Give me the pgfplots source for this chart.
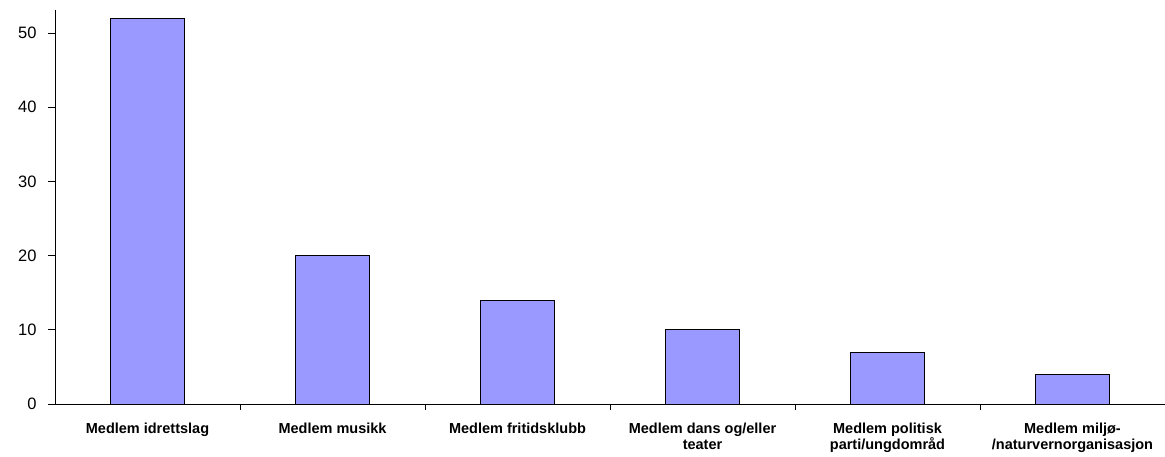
\documentclass[border=0pt]{standalone}
\usepackage{pgfplots}
\pgfplotsset{compat=1.18}
\usepackage{fontspec}
\setmainfont{Liberation Sans}
\definecolor{barblue}{HTML}{9999FF}

\begin{document}
\begin{tikzpicture}
\useasboundingbox (-55pt,-52pt) rectangle (1110pt,404pt);
\begin{axis}[
    at={(0,0)}, anchor=south west,
    scale only axis,
    width=1110pt, height=394pt,
    xmin=-0.5, xmax=5.5,
    ymin=0, ymax=53.1,
    axis x line=bottom, axis y line=left,
    axis line style={-, black, line width=0.8pt},
    ytick={0,10,20,30,40,50},
    tick align=outside,
    major tick length=7pt,
    minor tick length=6pt,
    tick style={black, line width=0.8pt},
    xtick={0,1,2,3,4,5},
    minor xtick={0.5,1.5,2.5,3.5,4.5},
    every major x tick/.append style={draw=none},
    every minor x tick/.append style={draw=black, line width=0.8pt},
    xticklabels={
      {Medlem idrettslag},
      {Medlem musikk},
      {Medlem fritidsklubb},
      {Medlem dans og/eller\\teater},
      {Medlem politisk\\parti/ungdområd},
      {Medlem miljø-\\/naturvernorganisasjon}},
    xticklabel style={font=\fontsize{14.5}{16}\selectfont\bfseries, align=center, anchor=north, yshift=-8pt},
    yticklabel style={font=\fontsize{16.5}{18}\selectfont, xshift=-8pt},
    /pgf/number format/assume math mode=true,
    clip=false,
]
\addplot[ybar, bar width=74pt, fill=barblue, draw=black, line width=0.8pt]
    coordinates {(0,52) (1,20) (2,14) (3,10) (4,7) (5,4)};
\end{axis}
\end{tikzpicture}
\end{document}
